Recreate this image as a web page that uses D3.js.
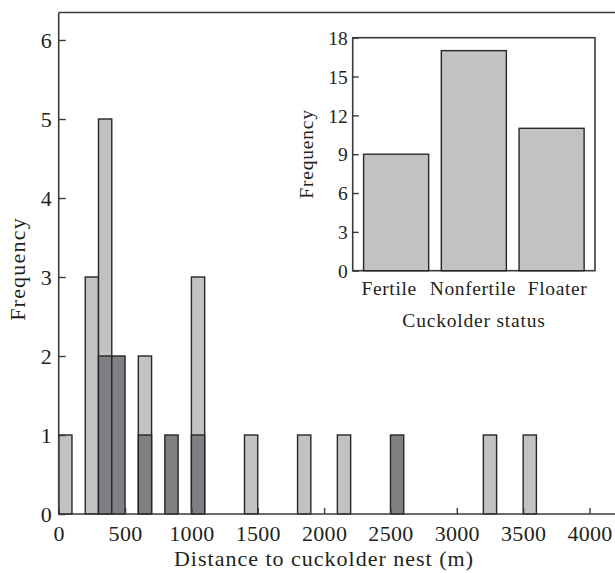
<!DOCTYPE html>
<html>
<head>
<meta charset="utf-8">
<script src="https://cdn.jsdelivr.net/npm/d3@7"></script>
<style>
  html, body { margin: 0; padding: 0; background: #fff; }
  svg { display: block; }
  text { font-family: "Liberation Serif", "Times New Roman", serif; fill: #231f20; }
</style>
</head>
<body>
<svg id="chart" width="615" height="573"></svg>
<script>
// ---- Main histogram data (bin start in m, bin width 100 m) ----
const binStarts   = [0, 200, 300, 400, 600, 800, 1000, 1400, 1800, 2100, 2500, 3200, 3500];
const totalCounts = [1, 3,   5,   2,   2,   1,   3,    1,    1,    1,    1,    1,    1];
const darkCounts  = [0, 0,   2,   2,   1,   1,   1,    0,    0,    0,    1,    0,    0];
const binWidth = 100;
const xTicks = [0, 500, 1000, 1500, 2000, 2500, 3000, 3500, 4000];
const yTicks = [0, 1, 2, 3, 4, 5, 6];

// ---- Inset data ----
const statusCats = ["Fertile", "Nonfertile", "Floater"];
const statusVals = [9, 17, 11];
const insetTicks = [0, 3, 6, 9, 12, 15, 18];

const LIGHT = "#c1c2c4", DARK = "#7f8084", STROKE = "#2a2627", AXIS = "#3a3a3a";

const svg = d3.select("#chart");

// ===== Main chart =====
const x = d3.scaleLinear().domain([0, 4000]).range([58.7, 589.5]);
const y = d3.scaleLinear().domain([0, 6]).range([514, 40]);
const topY = 12.5, rightX = 620;

const main = svg.append("g");

const bins = binStarts.map((s, i) => ({ s, total: totalCounts[i], dark: darkCounts[i] }));

main.selectAll("rect.light").data(bins.filter(d => d.total > d.dark)).join("rect")
  .attr("class", "light")
  .attr("x", d => x(d.s)).attr("width", d => x(d.s + binWidth) - x(d.s))
  .attr("y", d => y(d.total)).attr("height", d => y(0) - y(d.total))
  .attr("fill", LIGHT).attr("stroke", STROKE).attr("stroke-width", 1.4);

main.selectAll("rect.dark").data(bins.filter(d => d.dark > 0)).join("rect")
  .attr("class", "dark")
  .attr("x", d => x(d.s)).attr("width", d => x(d.s + binWidth) - x(d.s))
  .attr("y", d => y(d.dark)).attr("height", d => y(0) - y(d.dark))
  .attr("fill", DARK).attr("stroke", STROKE).attr("stroke-width", 1.4);

// frame lines
main.append("line").attr("x1", x(0)).attr("x2", x(0)).attr("y1", topY).attr("y2", y(0))
  .attr("stroke", AXIS).attr("stroke-width", 1.6);
main.append("line").attr("x1", x(0)).attr("x2", rightX).attr("y1", topY).attr("y2", topY)
  .attr("stroke", AXIS).attr("stroke-width", 1.6);
main.append("line").attr("x1", x(0)).attr("x2", rightX).attr("y1", y(0)).attr("y2", y(0))
  .attr("stroke", AXIS).attr("stroke-width", 1.6);

// x axis ticks (inward)
const xAxis = main.append("g").attr("transform", `translate(0,${y(0)})`)
  .call(d3.axisBottom(x).tickValues(xTicks).tickSize(-6).tickPadding(19).tickFormat(d3.format("d")));
xAxis.select(".domain").remove();
xAxis.selectAll(".tick line").attr("stroke", AXIS).attr("stroke-width", 1.4);
xAxis.selectAll(".tick text").attr("font-size", 22).attr("font-family", "Liberation Serif").attr("fill", "#231f20")
  .attr("dy", "0").attr("letter-spacing", 0.3);
xAxis.selectAll(".tick text").attr("y", 27);

// y axis ticks (inward)
const yAxis = main.append("g").attr("transform", `translate(${x(0)},0)`)
  .call(d3.axisLeft(y).tickValues(yTicks).tickSize(-7).tickPadding(14).tickFormat(d3.format("d")));
yAxis.select(".domain").remove();
yAxis.selectAll(".tick line").attr("stroke", AXIS).attr("stroke-width", 1.4);
yAxis.selectAll(".tick text").attr("font-size", 22).attr("font-family", "Liberation Serif").attr("fill", "#231f20")
  .attr("x", -7).attr("dy", "0.34em");

main.append("text").attr("x", 324).attr("y", 566).attr("text-anchor", "middle")
  .attr("font-size", 22).attr("letter-spacing", 1).text("Distance to cuckolder nest (m)");
main.append("text").attr("transform", "translate(25,269) rotate(-90)").attr("text-anchor", "middle")
  .attr("font-size", 22).attr("letter-spacing", 1.2).text("Frequency");

// ===== Inset =====
const ix = d3.scaleBand().domain(statusCats).range([352.7, 595]).paddingInner(0.163).paddingOuter(0.14);
const iy = d3.scaleLinear().domain([0, 18]).range([270.7, 37.7]);
const inset = svg.append("g");

inset.append("rect").attr("x", 352.7).attr("y", iy(18)).attr("width", 595 - 352.7).attr("height", iy(0) - iy(18))
  .attr("fill", "#fff").attr("stroke", AXIS).attr("stroke-width", 1.6);

inset.selectAll("rect.bar").data(statusCats.map((c, i) => ({ c, v: statusVals[i] }))).join("rect")
  .attr("class", "bar")
  .attr("x", d => ix(d.c)).attr("width", ix.bandwidth())
  .attr("y", d => iy(d.v)).attr("height", d => iy(0) - iy(d.v))
  .attr("fill", LIGHT).attr("stroke", STROKE).attr("stroke-width", 1.4);

const iyAxis = inset.append("g").attr("transform", "translate(352.7,0)")
  .call(d3.axisLeft(iy).tickValues(insetTicks).tickSize(-6).tickPadding(12));
iyAxis.select(".domain").remove();
iyAxis.selectAll(".tick line").attr("stroke", AXIS).attr("stroke-width", 1.4);
iyAxis.selectAll(".tick text").attr("font-size", 19.5).attr("font-family", "Liberation Serif").attr("fill", "#231f20")
  .attr("x", -5).attr("dy", "0.34em");

const labelShift = { "Fertile": -7, "Nonfertile": -1, "Floater": 6 };
const ixAxis = inset.append("g").attr("transform", "translate(0,270.7)")
  .call(d3.axisBottom(ix).tickSize(0).tickPadding(0));
ixAxis.select(".domain").remove();
ixAxis.selectAll(".tick text").attr("font-size", 19.5).attr("font-family", "Liberation Serif").attr("fill", "#231f20")
  .attr("letter-spacing", 0.6).attr("dy", 0).attr("y", 24.5).attr("dx", d => labelShift[d]);

inset.append("text").attr("x", 474).attr("y", 327).attr("text-anchor", "middle")
  .attr("font-size", 19.5).attr("letter-spacing", 0.8).text("Cuckolder status");
inset.append("text").attr("transform", "translate(313,154) rotate(-90)").attr("text-anchor", "middle")
  .attr("font-size", 19.5).attr("letter-spacing", 0.8).text("Frequency");
</script>
</body>
</html>
